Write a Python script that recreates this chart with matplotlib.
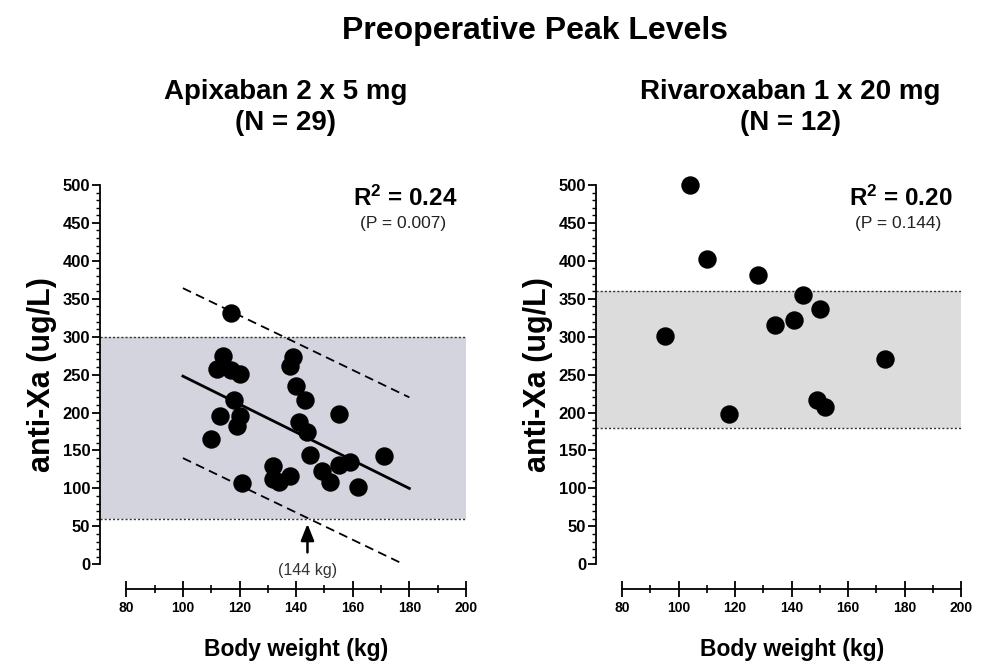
import matplotlib.pyplot as plt
from matplotlib.ticker import MultipleLocator

plt.rcParams['font.family'] = ['Liberation Sans', 'DejaVu Sans']
plt.rcParams['mathtext.fontset'] = 'custom'
plt.rcParams['mathtext.rm'] = 'Liberation Sans'
plt.rcParams['mathtext.bf'] = 'Liberation Sans:bold'

# ── Data ─────────────────────────────────────────────────────────────

apix_weight = [117, 114, 112, 117, 120, 118, 113, 120, 119, 110,
               121, 132, 132, 134, 138, 139, 138, 140, 143, 141,
               144, 145, 149, 152, 155, 155, 159, 162, 171]
apix_xa = [331, 274, 257, 256, 251, 217, 195, 196, 182, 165,
           107, 130, 113, 108, 116, 273, 261, 235, 216, 187,
           174, 144, 123, 108, 131, 198, 135, 102, 143]

riva_weight = [104, 110, 128, 95, 144, 150, 141, 134, 173, 118, 149, 152]
riva_xa = [500, 402, 381, 301, 355, 337, 322, 315, 271, 198, 217, 207]

# regression line and prediction band (left panel)
fit_x = [100, 180]
fit_y = [248, 100]
upper_x = [100, 180]
upper_y = [364, 220]
lower_x = [100, 178]
lower_y = [140, 0]

apix_range = (60, 300)
riva_range = (180, 360)
band_colors = ['#d4d4de', '#dcdcdc']

panel_titles = ['Apixaban 2 x 5 mg\n(N = 29)', 'Rivaroxaban 1 x 20 mg\n(N = 12)']
r2_labels = ['0.24', '0.20']
p_labels = ['(P = 0.007)', '(P = 0.144)']


# ── Helpers ──────────────────────────────────────────────────────────

def style_axis(ax):
    ax.set_xlim(70.7, 200)
    ax.set_ylim(0, 500)
    for side in ('top', 'right'):
        ax.spines[side].set_visible(False)
    ax.spines['bottom'].set_position(('outward', 18))
    ax.spines['bottom'].set_bounds(80, 200)
    ax.spines['left'].set_bounds(0, 500)
    ax.spines['left'].set_linewidth(1.3)
    ax.spines['bottom'].set_linewidth(1.3)

    ax.set_xticks(range(80, 201, 20))
    ax.set_xticks(range(90, 200, 20), minor=True)
    ax.yaxis.set_major_locator(MultipleLocator(50))
    ax.yaxis.set_minor_locator(MultipleLocator(10))

    ax.tick_params(axis='x', which='major', direction='inout', length=11, width=1.3,
                   labelsize=10, pad=3)
    ax.tick_params(axis='x', which='minor', direction='inout', length=6, width=1.2)
    ax.tick_params(axis='y', which='major', direction='out', length=6, width=1.3,
                   labelsize=12, pad=1)
    ax.tick_params(axis='y', which='minor', direction='out', length=3, width=1.0)
    for lab in ax.get_xticklabels() + ax.get_yticklabels():
        lab.set_fontweight('bold')

    ax.set_ylabel('anti-Xa (ug/L)', fontsize=22, fontweight='bold', labelpad=4)


def draw_band(ax, lo, hi, color):
    ax.axhspan(lo, hi, color=color, zorder=0, lw=0)
    ax.axhline(lo, color='#333333', ls=(0, (1.5, 1.5)), lw=1.0, zorder=1)
    ax.axhline(hi, color='#333333', ls=(0, (1.5, 1.5)), lw=1.0, zorder=1)


# ── Figure ───────────────────────────────────────────────────────────

fig = plt.figure(figsize=(9.81, 6.63), dpi=100)
ax1 = fig.add_axes([0.1019, 0.1489, 0.3731, 0.5721])
ax2 = fig.add_axes([0.6075, 0.1489, 0.3721, 0.5721])

fig.text(0.545, 0.953, 'Preoperative Peak Levels', ha='center', va='center',
         fontsize=23, fontweight='bold')

title_x = [0.2915, 0.8055]
xlabel_x = [0.302, 0.807]

datasets = [(ax1, apix_weight, apix_xa, apix_range), (ax2, riva_weight, riva_xa, riva_range)]
for i, (ax, wx, xa, rng) in enumerate(datasets):
    style_axis(ax)
    draw_band(ax, rng[0], rng[1], band_colors[i])
    ax.scatter(wx, xa, s=150, color='black', zorder=4, clip_on=False)
    fig.text(title_x[i], 0.838, panel_titles[i], ha='center', va='center',
             fontsize=20, fontweight='bold', linespacing=1.22)
    fig.text(xlabel_x[i], 0.021, 'Body weight (kg)', ha='center', va='center',
             fontsize=16.5, fontweight='bold')
    ax.text(197, 483, r'$\mathbf{R^2}$' + ' = ' + r2_labels[i], ha='right', va='center',
            fontsize=17.5, fontweight='bold')
    ax.text(193, 449, p_labels[i], ha='right', va='center', fontsize=12.5, color='#222222')

ax1.plot(fit_x, fit_y, color='black', lw=2.0, zorder=3)
ax1.plot(upper_x, upper_y, color='black', lw=1.3, ls=(0, (5, 3)), zorder=3)
ax1.plot(lower_x, lower_y, color='black', lw=1.3, ls=(0, (5, 3)), zorder=3)

ax1.annotate('', xy=(144, 57), xytext=(144, 12),
             arrowprops=dict(arrowstyle='-|>,head_length=1.0,head_width=0.4',
                             color='black', lw=1.8), annotation_clip=False)
ax1.text(144, -8, '(144 kg)', ha='center', va='center', fontsize=11.5, color='#333333',
         clip_on=False)

fig.savefig('out.png', dpi=100)
